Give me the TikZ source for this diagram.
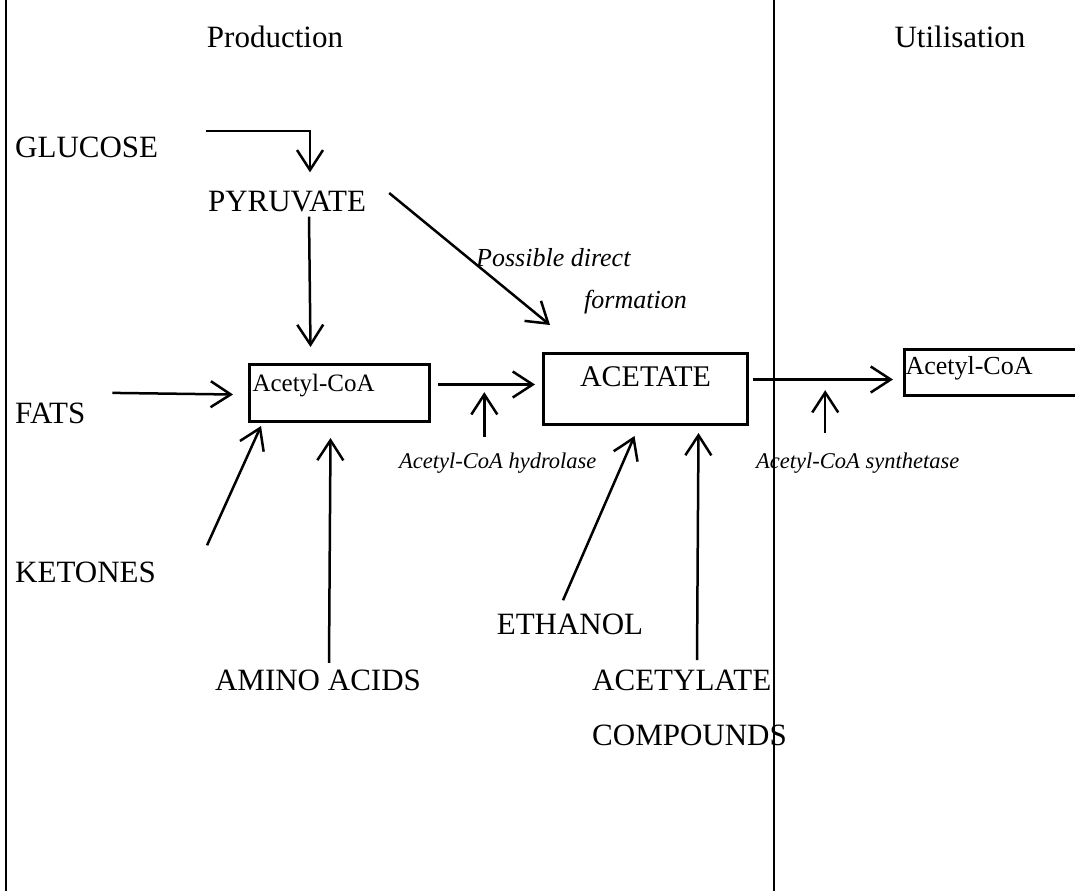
\documentclass[tikz,border=0pt]{standalone}
\usepackage{fontspec}
\setmainfont{Liberation Serif}
\usetikzlibrary{arrows.meta,calc}
\begin{document}
\begin{tikzpicture}[x=1pt,y=-1pt,
  big/.style={font=\fontsize{31}{36}\selectfont, inner sep=3pt},
  arr/.style={line width=2.5pt, -{Straight Barb[length=20pt,width=26pt]}},
  lbl/.style={font=\fontsize{22.5}{26}\selectfont\itshape, inner sep=1pt},
  note/.style={font=\fontsize{26}{30}\selectfont\itshape, inner sep=1pt},
  box/.style={draw, line width=3pt, inner ysep=0pt}]
\useasboundingbox (0,0) rectangle (1075,891);
% frame lines
\draw[line width=2.5pt] (6,0) -- (6,891);
\draw[line width=1.5pt] (774,0) -- (774,891);
% headings
\node[big, anchor=base] (prod) at (275,48) {Production};
\node[big, anchor=base] (util) at (960,48) {Utilisation};
% sources
\node[big, anchor=base west] (glucose) at (12,157) {GLUCOSE};
\node[big] (pyruvate) at (287,201) {PYRUVATE};
\node[big, anchor=base west] (fats) at (12,423) {FATS};
\node[big, anchor=base west] (ketones) at (12,582) {KETONES};
\node[big, anchor=base] (amino) at (318,690) {AMINO ACIDS};
\node[big, anchor=base] (ethanol) at (570,634) {ETHANOL};
\node[big, font=\fontsize{31}{55}\selectfont, align=left, anchor=north west] (acetyl) at (589,667) {ACETYLATE\\COMPOUNDS};
% boxes
\node[box, font=\fontsize{25}{30}\selectfont, text width=174pt, align=left, inner xsep=3pt,
      text height=27pt, text depth=30pt, anchor=north west] (acoa1) at (248,363) {Acetyl-CoA};
\node[box, font=\fontsize{30}{34}\selectfont, text width=204pt, align=center, inner xsep=0pt,
      text height=33pt, text depth=38pt, anchor=north west] (acetate) at (542,352) {ACETATE};
\node[box, font=\fontsize{26}{30}\selectfont, text width=180pt, align=left, inner xsep=1pt,
      text height=25pt, text depth=21pt, anchor=north west] (acoa2) at (903,348) {Acetyl-CoA};
% labels
\node[note, anchor=base west] (poss) at (475,266) {Possible direct};
\node[note, anchor=base west] (form) at (583,308) {formation};
\node[lbl, anchor=base west] (hydro) at (398,468) {Acetyl-CoA hydrolase};
\node[lbl, anchor=base west] (synth) at (755,468) {Acetyl-CoA synthetase};
% arrows
\draw[arr] ($(glucose.east)+(45,-16)$) -| ($(pyruvate.north)+(23,-15)$);
\draw[arr] ($(pyruvate.south)+(22,2)$) -- ($(acoa1.north)+(-29,-16)$);
\draw[arr] ($(pyruvate.east)+(20,-8)$) -- ($(acetate.north west)+(8,-27)$);
\draw[arr] ($(fats.east)+(24,-20)$) -- ($(acoa1.west)+(-15,1.5)$);
\draw[arr] ($(ketones.north east)+(48,-13)$) -- ($(acoa1.south west)+(13,3)$);
\draw[arr] ($(amino.north)+(11,-3.5)$) -- ($(acoa1.south)+(-9,15)$);
\draw[arr] ($(acoa1.east)+(7,-8.5)$) -- ($(acetate.west)+(-7,-4.5)$);
\draw[arr] ($(hydro.north)+(-13.5,-14)$) -- ++(0,-45);
\draw[arr] ($(ethanol.north)+(-7,-10)$) -- ($(acetate.south)+(-11,10)$);
\draw[arr] ($(acetyl.north west)+(108,-7)$) -- ($(acetate.south)+(53,7)$);
\draw[arr] ($(acetate.east)+(4,-9.5)$) -- ($(acoa2.west)+(-10,7)$);
\draw[arr] ($(synth.north)+(-32.5,-18)$) -- ++(0,-43);
\end{tikzpicture}
\end{document}
